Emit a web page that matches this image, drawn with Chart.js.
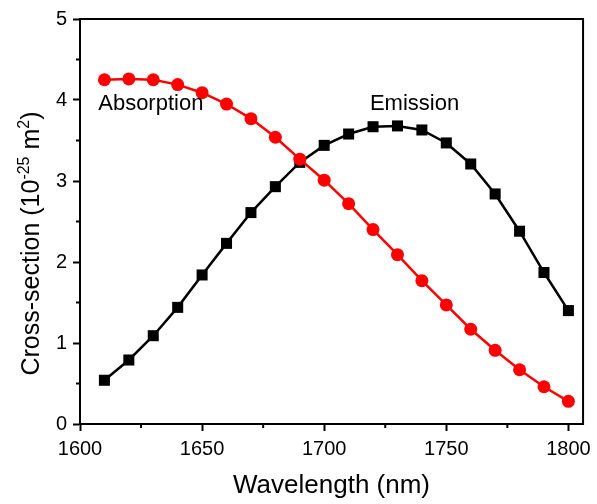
<!DOCTYPE html>
<html>
<head>
<meta charset="utf-8">
<script src="https://cdn.jsdelivr.net/npm/chart.js@4"></script>
<style>
  html, body { margin: 0; padding: 0; background: #fff; }
  #wrap { width: 597px; height: 504px; }
</style>
</head>
<body>
<div id="wrap"><canvas id="chart" width="597" height="504"></canvas></div>
<script>
const wavelengths = [1610, 1620, 1630, 1640, 1650, 1660, 1670, 1680, 1690, 1700,
                     1710, 1720, 1730, 1740, 1750, 1760, 1770, 1780, 1790, 1800];
const absorption = [4.25, 4.26, 4.25, 4.19, 4.09, 3.95, 3.77, 3.54, 3.27, 3.01,
                    2.72, 2.40, 2.09, 1.77, 1.47, 1.17, 0.91, 0.67, 0.46, 0.28];
const emission = [0.54, 0.79, 1.09, 1.44, 1.84, 2.23, 2.61, 2.93, 3.23, 3.44,
                  3.58, 3.67, 3.68, 3.63, 3.47, 3.21, 2.84, 2.38, 1.87, 1.40];
const xTicks = [1600, 1650, 1700, 1750, 1800];
const yTicks = [0, 1, 2, 3, 4, 5];
const notes = [
    { text: 'Absorption', x: 1629, y: 3.95 },
    { text: 'Emission', x: 1737, y: 3.95 }
];
// y title pieces, sup = superscript
const yTitle = [
    { t: 'Cross-section (10', sup: false },
    { t: '-25', sup: true },
    { t: ' m', sup: false },
    { t: '2', sup: true },
    { t: ')', sup: false }
];

const FONT = "'Liberation Sans', Arial, sans-serif";

const extras = {
    id: 'extras',
    afterDraw(chart) {
        const ctx = chart.ctx;
        const a = chart.chartArea;
        const xs = chart.scales.x, ys = chart.scales.y;
        ctx.save();
        // box
        ctx.strokeStyle = '#000';
        ctx.lineWidth = 2;
        ctx.strokeRect(a.left, a.top, a.right - a.left, a.bottom - a.top);
        // minor ticks
        ctx.beginPath();
        for (let v = 1625; v < 1805; v += 50) {
            const px = xs.getPixelForValue(v);
            ctx.moveTo(px, a.bottom);
            ctx.lineTo(px, a.bottom + 4);
        }
        for (let v = 0.5; v < 5; v += 1) {
            const py = ys.getPixelForValue(v);
            ctx.moveTo(a.left, py);
            ctx.lineTo(a.left - 4, py);
        }
        ctx.stroke();
        // notes
        ctx.fillStyle = '#000';
        ctx.font = '22px ' + FONT;
        ctx.textAlign = 'center';
        ctx.textBaseline = 'middle';
        notes.forEach(n => {
            ctx.fillText(n.text, xs.getPixelForValue(n.x), ys.getPixelForValue(n.y));
        });
        // y title with superscripts
        const big = '25px ' + FONT, small = '16px ' + FONT;
        let total = 0;
        yTitle.forEach(p => { ctx.font = p.sup ? small : big; total += ctx.measureText(p.t).width; });
        ctx.translate(39, (a.top + a.bottom) / 2 + 22);
        ctx.rotate(-Math.PI / 2);
        ctx.textAlign = 'left';
        ctx.textBaseline = 'alphabetic';
        let cx = -total / 2;
        yTitle.forEach(p => {
            ctx.font = p.sup ? small : big;
            ctx.fillText(p.t, cx, p.sup ? -10 : 0);
            cx += ctx.measureText(p.t).width;
        });
        ctx.restore();
    }
};

new Chart(document.getElementById('chart').getContext('2d'), {
    type: 'line',
    data: {
        datasets: [{
            label: 'Absorption',
            data: wavelengths.map((w, i) => ({ x: w, y: absorption[i] })),
            borderColor: '#ff0000',
            backgroundColor: '#ff0000',
            borderWidth: 2.5,
            pointStyle: 'circle',
            pointRadius: 6.5,
            pointBorderWidth: 0
        }, {
            label: 'Emission',
            data: wavelengths.map((w, i) => ({ x: w, y: emission[i] })),
            borderColor: '#000',
            backgroundColor: '#000',
            borderWidth: 2.5,
            pointStyle: 'rect',
            pointRadius: 7.8,
            pointBorderWidth: 0
        }]
    },
    options: {
        responsive: false,
        animation: false,
        layout: { padding: { top: 19, right: 12, left: 0, bottom: 0 } },
        plugins: { legend: { display: false }, tooltip: { enabled: false } },
        scales: {
            x: {
                type: 'linear',
                min: 1600,
                max: 1806,
                afterBuildTicks: s => { s.ticks = xTicks.map(v => ({ value: v })); },
                afterFit: s => { s.height = 80; },
                border: { color: '#000', width: 2 },
                grid: { drawOnChartArea: false, tickLength: 7, tickColor: '#000', tickWidth: 2 },
                ticks: { color: '#000', font: { family: FONT, size: 20 }, padding: 6, maxRotation: 0,
                         callback: v => String(v) },
                title: { display: true, text: 'Wavelength (nm)', color: '#000',
                         font: { family: FONT, size: 26 }, padding: { top: 0, bottom: 3 } }
            },
            y: {
                min: 0,
                max: 5,
                afterBuildTicks: s => { s.ticks = yTicks.map(v => ({ value: v })); },
                afterFit: s => { s.width = 80; },
                border: { color: '#000', width: 2 },
                grid: { drawOnChartArea: false, tickLength: 7, tickColor: '#000', tickWidth: 2 },
                ticks: { color: '#000', font: { family: FONT, size: 20 }, padding: 6,
                         callback: v => String(v) }
            }
        }
    },
    plugins: [extras]
});
</script>
</body>
</html>
